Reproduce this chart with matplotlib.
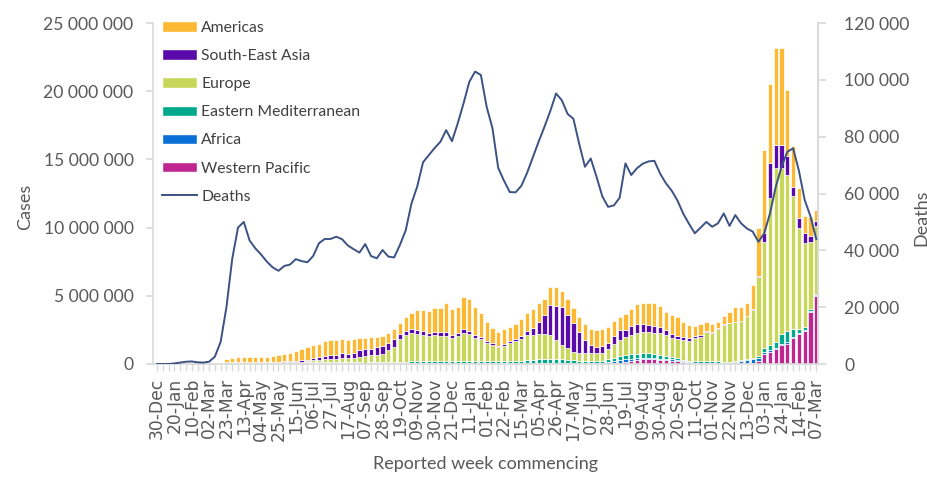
import matplotlib
import matplotlib.pyplot as plt
import numpy as np
from matplotlib.lines import Line2D
from matplotlib.patches import Patch
from matplotlib.ticker import FuncFormatter, MultipleLocator

matplotlib.use("Agg")

# weekly cases by WHO region (millions), weeks commencing 30-Dec-2019 .. 07-Mar-2022
western_pacific = [
    0, 0, 0, 0, 0, 0, 0, 0, 0, 0,
    0, 0, .01, .01, .01, .01, .01, .01, .01, .01,
    .01, .01, .01, .01, .01, .01, .02, .02, .02, .02,
    .02, .02, .02, .02, .02, .02, .02, .02, .02, .02,
    .02, .02, .02, .03, .03, .03, .03, .04, .04, .04,
    .04, .04, .04, .04, .04, .04, .04, .03, .03, .03,
    .03, .03, .03, .03, .03, .03, .03, .03, .03, .03,
    .03, .03, .03, .03, .03, .03, .03, .03, .03, .05,
    .08, .15, .25, .30, .33, .35, .35, .32, .28, .25,
    .22, .15, .10, .05, .05, .05, .05, .05, .03, .03,
    .05, .05, .08, .10, .25, .75, .90, 1.10, 1.40, 1.50,
    1.90, 2.20, 2.40, 3.80, 5.00,
]
africa = [
    0, 0, 0, 0, 0, 0, 0, 0, 0, 0,
    0, 0, 0, 0, .01, .01, .01, .01, .01, .01,
    .01, .02, .02, .02, .02, .03, .04, .04, .04, .05,
    .05, .05, .04, .04, .04, .04, .03, .03, .03, .03,
    .03, .03, .03, .03, .03, .03, .03, .03, .04, .04,
    .04, .05, .05, .05, .05, .05, .04, .04, .03, .03,
    .03, .03, .03, .03, .03, .03, .04, .04, .04, .04,
    .04, .04, .04, .05, .05, .05, .05, .05, .10, .18,
    .22, .20, .15, .12, .10, .10, .10, .08, .08, .08,
    .08, .05, .05, .05, .05, .05, .05, .05, .05, .05,
    .10, .15, .20, .25, .20, .15, .12, .10, .10, .10,
    .10, .10, .10, .05, .05,
]
eastern_med = [
    0, 0, 0, 0, 0, 0, 0, 0, 0, 0,
    0, 0, .01, .01, .02, .02, .02, .03, .03, .03,
    .04, .04, .04, .05, .05, .05, .05, .05, .05, .05,
    .05, .05, .05, .05, .05, .05, .05, .06, .07, .08,
    .09, .10, .11, .12, .13, .13, .13, .12, .12, .12,
    .13, .14, .15, .15, .15, .15, .15, .14, .13, .13,
    .14, .15, .17, .19, .21, .23, .26, .28, .30, .30,
    .29, .25, .20, .17, .15, .15, .15, .15, .20, .22,
    .25, .28, .30, .32, .35, .33, .30, .27, .22, .18,
    .15, .12, .10, .10, .10, .10, .10, .10, .10, .10,
    .10, .10, .12, .12, .15, .30, .35, .40, .70, .80,
    .60, .30, .20, .15, .10,
]
europe = [
    0, 0, 0, 0, 0, 0, 0, 0, 0, 0,
    0, 0, .12, .13, .13, .12, .11, .10, .09, .08,
    .08, .07, .07, .07, .08, .08, .10, .20, .20, .23,
    .25, .28, .30, .30, .33, .40, .46, .52, .56, .60,
    .89, 1.12, 1.65, 1.97, 2.06, 2.01, 1.94, 1.86, 1.93, 1.88,
    1.87, 1.70, 1.81, 2.06, 1.96, 1.69, 1.58, 1.35, 1.18, 1.03,
    1.12, 1.31, 1.43, 1.61, 1.86, 1.84, 1.84, 1.82, 1.76, 1.39,
    1.03, .83, .63, .53, .55, .55, .55, .60, .75, 1.02,
    1.21, 1.37, 1.43, 1.56, 1.54, 1.59, 1.55, 1.58, 1.52, 1.37,
    1.38, 1.44, 1.46, 1.74, 1.80, 2.17, 2.10, 2.40, 2.70, 2.80,
    2.80, 2.83, 3.10, 3.50, 5.80, 7.77, 10.78, 12.75, 12.20, 11.45,
    9.70, 7.35, 6.15, 4.95, 4.95,
]
south_east_asia = [
    0, 0, 0, 0, 0, 0, 0, 0, 0, 0,
    0, 0, 0, .01, .01, .01, .02, .02, .02, .03,
    .03, .04, .05, .06, .07, .09, .10, .15, .20, .24,
    .29, .29, .37, .34, .39, .49, .54, .49, .54, .56,
    .49, .54, .36, .29, .32, .29, .29, .25, .24, .24,
    .24, .20, .20, .24, .24, .20, .19, .15, .15, .10,
    .15, .17, .17, .19, .31, .48, .93, 1.42, 2.20, 2.52,
    2.76, 2.44, 2.08, 1.59, .98, .61, .49, .49, .48, .58,
    .73, .49, .68, .61, .59, .49, .51, .44, .39, .29,
    .22, .19, .17, .12, .10, .05, .05, .05, .05, .05,
    .05, .05, .05, .05, .05, .60, 2.55, 1.70, 1.65, 1.40,
    .70, .75, .75, .45, .35,
]
americas = [
    0, 0, 0, 0, 0, 0, 0, 0, 0, 0,
    0, 0, .25, .30, .31, .33, .33, .33, .33, .38,
    .44, .45, .57, .62, .72, .82, .96, .91, .93, 1.10,
    1.10, 1.07, 1.03, 1.01, .98, .93, .78, .88, .78, .79,
    .78, .73, .81, .98, 1.14, 1.47, 1.54, 1.59, 1.71, 1.81,
    2.13, 1.90, 1.95, 2.35, 2.35, 2.02, 1.71, 1.39, 1.12, 1.05,
    1.12, 1.00, 1.08, 1.22, 1.27, 1.39, 1.35, 1.15, 1.29, 1.34,
    1.23, 1.15, 1.15, 1.10, 1.17, 1.20, 1.22, 1.22, 1.13, 1.13,
    .98, 1.18, 1.22, 1.49, 1.59, 1.64, 1.69, 1.56, 1.35, 1.42,
    1.37, 1.10, .98, .75, .83, .63, .60, .45, .60, .81,
    1.05, .97, .90, 1.75, 3.52, 6.13, 5.80, 7.10, 7.15, 4.85,
    3.00, 2.20, 1.25, 1.40, .85,
]
# weekly deaths (thousands)
deaths = [
    0, 0, 0, .2, .5, .8, .9, .6, .5, .8,
    2.6, 7.8, 20, 37, 48, 50, 43.5, 40.7, 38.5, 36,
    34, 32.8, 34.5, 35, 36.9, 36.2, 35.8, 38, 42.5, 44,
    44, 44.8, 43.9, 41.7, 40.4, 39.2, 42.2, 38, 37.2, 40.1,
    37.8, 37.5, 41.9, 47, 56.5, 62.5, 71, 73.5, 76, 78.2,
    82.3, 78.4, 84.7, 91.7, 99.3, 102.9, 101.7, 90.5, 83, 69,
    64.5, 60.5, 60.4, 62.7, 67.3, 72.8, 78.3, 83.5, 89, 95.2,
    92.8, 88, 86.3, 77.5, 69.4, 72.3, 65.9, 59, 55.3, 55.8,
    58.5, 70.6, 66.5, 68.9, 70.5, 71.3, 71.5, 67, 63.6, 61,
    57.5, 52.9, 49.3, 46, 48, 50, 48.3, 49.5, 53, 48.6,
    52.4, 49.5, 47.7, 46.6, 43, 46, 53, 62.4, 69.4, 74.7,
    75.9, 68, 57.7, 52, 44,
]
tick_labels = [
    "30-Dec", "20-Jan", "10-Feb", "02-Mar", "23-Mar", "13-Apr", "04-May",
    "25-May", "15-Jun", "06-Jul", "27-Jul", "17-Aug", "07-Sep", "28-Sep",
    "19-Oct", "09-Nov", "30-Nov", "21-Dec", "11-Jan", "01-Feb", "22-Feb",
    "15-Mar", "05-Apr", "26-Apr", "17-May", "07-Jun", "28-Jun", "19-Jul",
    "09-Aug", "30-Aug", "20-Sep", "11-Oct", "01-Nov", "22-Nov", "13-Dec",
    "03-Jan", "24-Jan", "14-Feb", "07-Mar",
]

# stacked bottom to top
regions = [
    ("Western Pacific", western_pacific, "#C0268F"),
    ("Africa", africa, "#0A6FD6"),
    ("Eastern Mediterranean", eastern_med, "#00A98C"),
    ("Europe", europe, "#C8D75A"),
    ("South-East Asia", south_east_asia, "#5A0AAA"),
    ("Americas", americas, "#FDB933"),
]
line_color = "#3B5283"
text_gray = "#595959"
axis_gray = "#D9D9D9"
font = "Lato"


def spaced(v, pos):
    return f"{int(round(v)):,}".replace(",", " ")


fig = plt.figure(figsize=(9.28, 4.79), dpi=100)
ax = fig.add_axes([153 / 928, 1 - 364 / 479, 665 / 928, 341 / 479])

x = np.arange(len(americas))
bottom = np.zeros(len(x))
for name, vals, color in regions:
    v = np.array(vals) * 1e6
    ax.bar(x, v, bottom=bottom, width=0.74, color=color,
           edgecolor="white", linewidth=0.5, zorder=2)
    bottom += v

ax.set_xlim(-0.7, 114.3)
ax.set_ylim(0, 25e6)
ax.yaxis.set_major_locator(MultipleLocator(5e6))
ax.yaxis.set_major_formatter(FuncFormatter(spaced))

labels = [""] * len(x)
for k, lab in enumerate(tick_labels):
    labels[k * 3] = lab
ax.set_xticks(x)
ax.set_xticklabels(labels, rotation=90, fontsize=12.3, color=text_gray,
                   family="DejaVu Sans")

ax.spines["top"].set_visible(False)
for side in ("left", "bottom", "right"):
    ax.spines[side].set_color(axis_gray)
    ax.spines[side].set_linewidth(1.2)
ax.tick_params(axis="x", length=5, color=axis_gray, width=1, pad=5)
ax.tick_params(axis="y", length=5, color=axis_gray, width=1.2, pad=9,
               labelsize=12.6, labelcolor=text_gray)
for t in ax.get_yticklabels():
    t.set_family(font)

ax.set_ylabel("Cases", fontsize=13, color=text_gray, family=font)
ax.yaxis.set_label_coords(-0.18, 0.46)
ax.set_xlabel("Reported week commencing", fontsize=13, color=text_gray,
              family=font, labelpad=11)

ax2 = ax.twinx()
ax2.plot(x, np.array(deaths) * 1e3, color=line_color, linewidth=1.4, zorder=3)
ax2.set_ylim(0, 120000)
ax2.yaxis.set_major_locator(MultipleLocator(20000))
ax2.yaxis.set_major_formatter(FuncFormatter(spaced))
for side in ("top", "left", "bottom"):
    ax2.spines[side].set_visible(False)
ax2.spines["right"].set_color(axis_gray)
ax2.spines["right"].set_linewidth(1.2)
ax2.tick_params(axis="y", length=6, color=axis_gray, width=1.2, pad=13,
                labelsize=12.6, labelcolor=text_gray)
for t in ax2.get_yticklabels():
    t.set_family(font)
ax2.set_ylabel("Deaths", fontsize=13, color=text_gray, family=font)
ax2.yaxis.set_label_coords(1.143, 0.43)

handles = [Patch(facecolor=c, edgecolor="white", label=n)
           for n, _, c in reversed(regions)]
handles.append(Line2D([], [], color=line_color, linewidth=1.4, label="Deaths"))
leg = fig.legend(handles=handles, loc="upper left",
                 bbox_to_anchor=(162 / 928, 1 - 21 / 479), frameon=False,
                 borderpad=0, borderaxespad=0, handlelength=2.2,
                 handleheight=0.65, handletextpad=0.3, labelspacing=0.9,
                 prop={"family": font, "size": 11.3})
for t in leg.get_texts():
    t.set_color("#404040")

fig.savefig("out.png", dpi=100)
